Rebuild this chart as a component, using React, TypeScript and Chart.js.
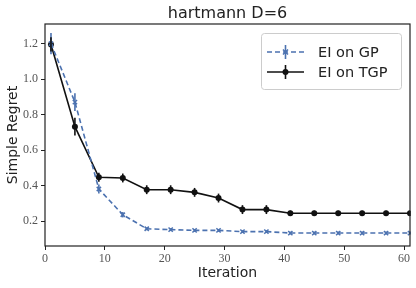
import React, { useEffect, useRef } from "react";
import { Chart, registerables } from "chart.js";

Chart.register(...registerables);

const iterations = [1, 5, 9, 13, 17, 21, 25, 29, 33, 37, 41, 45, 49, 53, 57, 61];
const gpMean = [1.2, 0.87, 0.381, 0.236, 0.157, 0.152, 0.148, 0.148, 0.141, 0.141, 0.133, 0.133, 0.133, 0.133, 0.133, 0.133];
const gpErr = [0.06, 0.05, 0.025, 0.015, 0.008, 0.008, 0.008, 0.008, 0.008, 0.008, 0.008, 0.008, 0.008, 0.008, 0.008, 0.008];
const tgpMean = [1.195, 0.732, 0.447, 0.443, 0.377, 0.377, 0.362, 0.33, 0.265, 0.265, 0.244, 0.244, 0.244, 0.244, 0.244, 0.244];
const tgpErr = [0.04, 0.05, 0.025, 0.025, 0.025, 0.025, 0.025, 0.025, 0.025, 0.025, 0.015, 0.015, 0.015, 0.015, 0.015, 0.015];
const errs = [gpErr, tgpErr];
const seriesNames = ["EI on GP", "EI on TGP"];
const xTicks = [0, 10, 20, 30, 40, 50, 60];
const yTicks = [0.2, 0.4, 0.6, 0.8, 1.0, 1.2];
const titleText = "hartmann D=6";
const xLabel = "Iteration";
const yLabel = "Simple Regret";

const BLUE = "#4c72b0";
const BLACK = "#111111";
const SANS = "'DejaVu Sans', sans-serif";
const SERIF = "'Liberation Serif', serif";

const decor = {
  id: "decor",
  afterDatasetsDraw(chart: any) {
    const ctx = chart.ctx;
    const xs = chart.scales.x;
    const ys = chart.scales.y;
    ctx.save();
    chart.data.datasets.forEach((ds: any, i: number) => {
      ctx.strokeStyle = ds.borderColor;
      ctx.lineWidth = 1.6;
      ctx.setLineDash([]);
      ds.data.forEach((p: any, j: number) => {
        const px = xs.getPixelForValue(p.x);
        const y1 = ys.getPixelForValue(p.y - errs[i][j]);
        const y2 = ys.getPixelForValue(p.y + errs[i][j]);
        ctx.beginPath();
        ctx.moveTo(px, y1);
        ctx.lineTo(px, y2);
        ctx.stroke();
      });
    });
    const a = chart.chartArea;
    ctx.strokeStyle = "#222";
    ctx.lineWidth = 1.2;
    ctx.strokeRect(a.left, a.top, a.right - a.left, a.bottom - a.top);
    ctx.fillStyle = "#222";
    ctx.font = `16px ${SANS}`;
    ctx.textAlign = "center";
    ctx.textBaseline = "middle";
    ctx.fillText(titleText, (a.left + a.right) / 2, 14);
    ctx.font = `14px ${SANS}`;
    ctx.fillText(xLabel, (a.left + a.right) / 2, 273);
    ctx.save();
    ctx.translate(13, (a.top + a.bottom) / 2);
    ctx.rotate(-Math.PI / 2);
    ctx.fillText(yLabel, 0, 0);
    ctx.restore();
    const lx = 261, ly = 33, lw = 140, lh = 56;
    ctx.fillStyle = "rgba(255,255,255,0.8)";
    ctx.strokeStyle = "#cccccc";
    ctx.lineWidth = 1;
    ctx.beginPath();
    (ctx as any).roundRect(lx + 0.5, ly + 0.5, lw, lh, 3);
    ctx.fill();
    ctx.stroke();
    const rows = [52, 72];
    chart.data.datasets.forEach((ds: any, i: number) => {
      const y = rows[i];
      ctx.strokeStyle = ds.borderColor;
      ctx.lineWidth = 1.6;
      ctx.setLineDash(i === 0 ? [5, 3] : []);
      ctx.beginPath();
      ctx.moveTo(267, y);
      ctx.lineTo(304, y);
      ctx.stroke();
      ctx.setLineDash([]);
      ctx.beginPath();
      ctx.moveTo(285.5, y - 7);
      ctx.lineTo(285.5, y + 7);
      ctx.stroke();
      if (i === 1) {
        ctx.fillStyle = ds.borderColor;
        ctx.beginPath();
        ctx.arc(285.5, y, 3, 0, Math.PI * 2);
        ctx.fill();
      } else {
        ctx.beginPath();
        ctx.moveTo(283, y - 2.5);
        ctx.lineTo(288, y + 2.5);
        ctx.moveTo(288, y - 2.5);
        ctx.lineTo(283, y + 2.5);
        ctx.stroke();
      }
      ctx.fillStyle = "#222";
      ctx.font = `14.5px ${SANS}`;
      ctx.textAlign = "left";
      ctx.textBaseline = "middle";
      ctx.fillText(seriesNames[i], 318, y + 1);
    });
    ctx.restore();
  },
};

export default function App() {
  const ref = useRef<HTMLCanvasElement>(null);
  useEffect(() => {
    document.body.style.margin = "0";
    const chart = new Chart(ref.current!, {
      type: "line",
      data: {
        datasets: [
          {
            label: seriesNames[0],
            data: iterations.map((x, i) => ({ x, y: gpMean[i] })),
            borderColor: BLUE,
            backgroundColor: BLUE,
            borderWidth: 1.6,
            borderDash: [5, 3],
            pointStyle: "crossRot",
            pointRadius: 3,
            pointBorderWidth: 1.5,
            tension: 0,
          },
          {
            label: seriesNames[1],
            data: iterations.map((x, i) => ({ x, y: tgpMean[i] })),
            borderColor: BLACK,
            backgroundColor: BLACK,
            borderWidth: 1.6,
            pointStyle: "circle",
            pointRadius: 3,
            pointBorderWidth: 0,
            tension: 0,
          },
        ],
      },
      options: {
        responsive: false,
        animation: false,
        layout: { padding: { top: 24, right: 6, left: 0, bottom: 0 } },
        plugins: { legend: { display: false }, title: { display: false }, tooltip: { enabled: false } },
        scales: {
          x: {
            type: "linear",
            min: 0,
            max: 61,
            grid: { drawOnChartArea: false, drawTicks: true, tickLength: 4, color: "#222" },
            border: { display: false },
            ticks: {
              autoSkip: false,
              maxRotation: 0,
              color: "#555",
              font: { family: SERIF, size: 12 },
              padding: 2,
              callback: (v: any) => String(v),
            },
            afterBuildTicks: (s: any) => {
              s.ticks = xTicks.map((v) => ({ value: v }));
            },
            afterFit: (s: any) => { s.height = 42; },
          },
          y: {
            type: "linear",
            min: 0.06,
            max: 1.31,
            grid: { drawOnChartArea: false, drawTicks: true, tickLength: 4, color: "#222" },
            border: { display: false },
            ticks: {
              autoSkip: false,
              color: "#555",
              font: { family: SERIF, size: 12 },
              padding: 3,
              callback: (v: any) => Number(v).toFixed(1),
            },
            afterBuildTicks: (s: any) => {
              s.ticks = yTicks.map((v) => ({ value: v }));
            },
            afterFit: (s: any) => { s.width = 45; },
          },
        },
      },
      plugins: [decor],
    });
    return () => chart.destroy();
  }, []);
  return (
    <div style={{ position: "absolute", left: 0, top: 0, width: 416, height: 288 }}>
      <canvas ref={ref} width={416} height={288} style={{ width: 416, height: 288 }} />
    </div>
  );
}
